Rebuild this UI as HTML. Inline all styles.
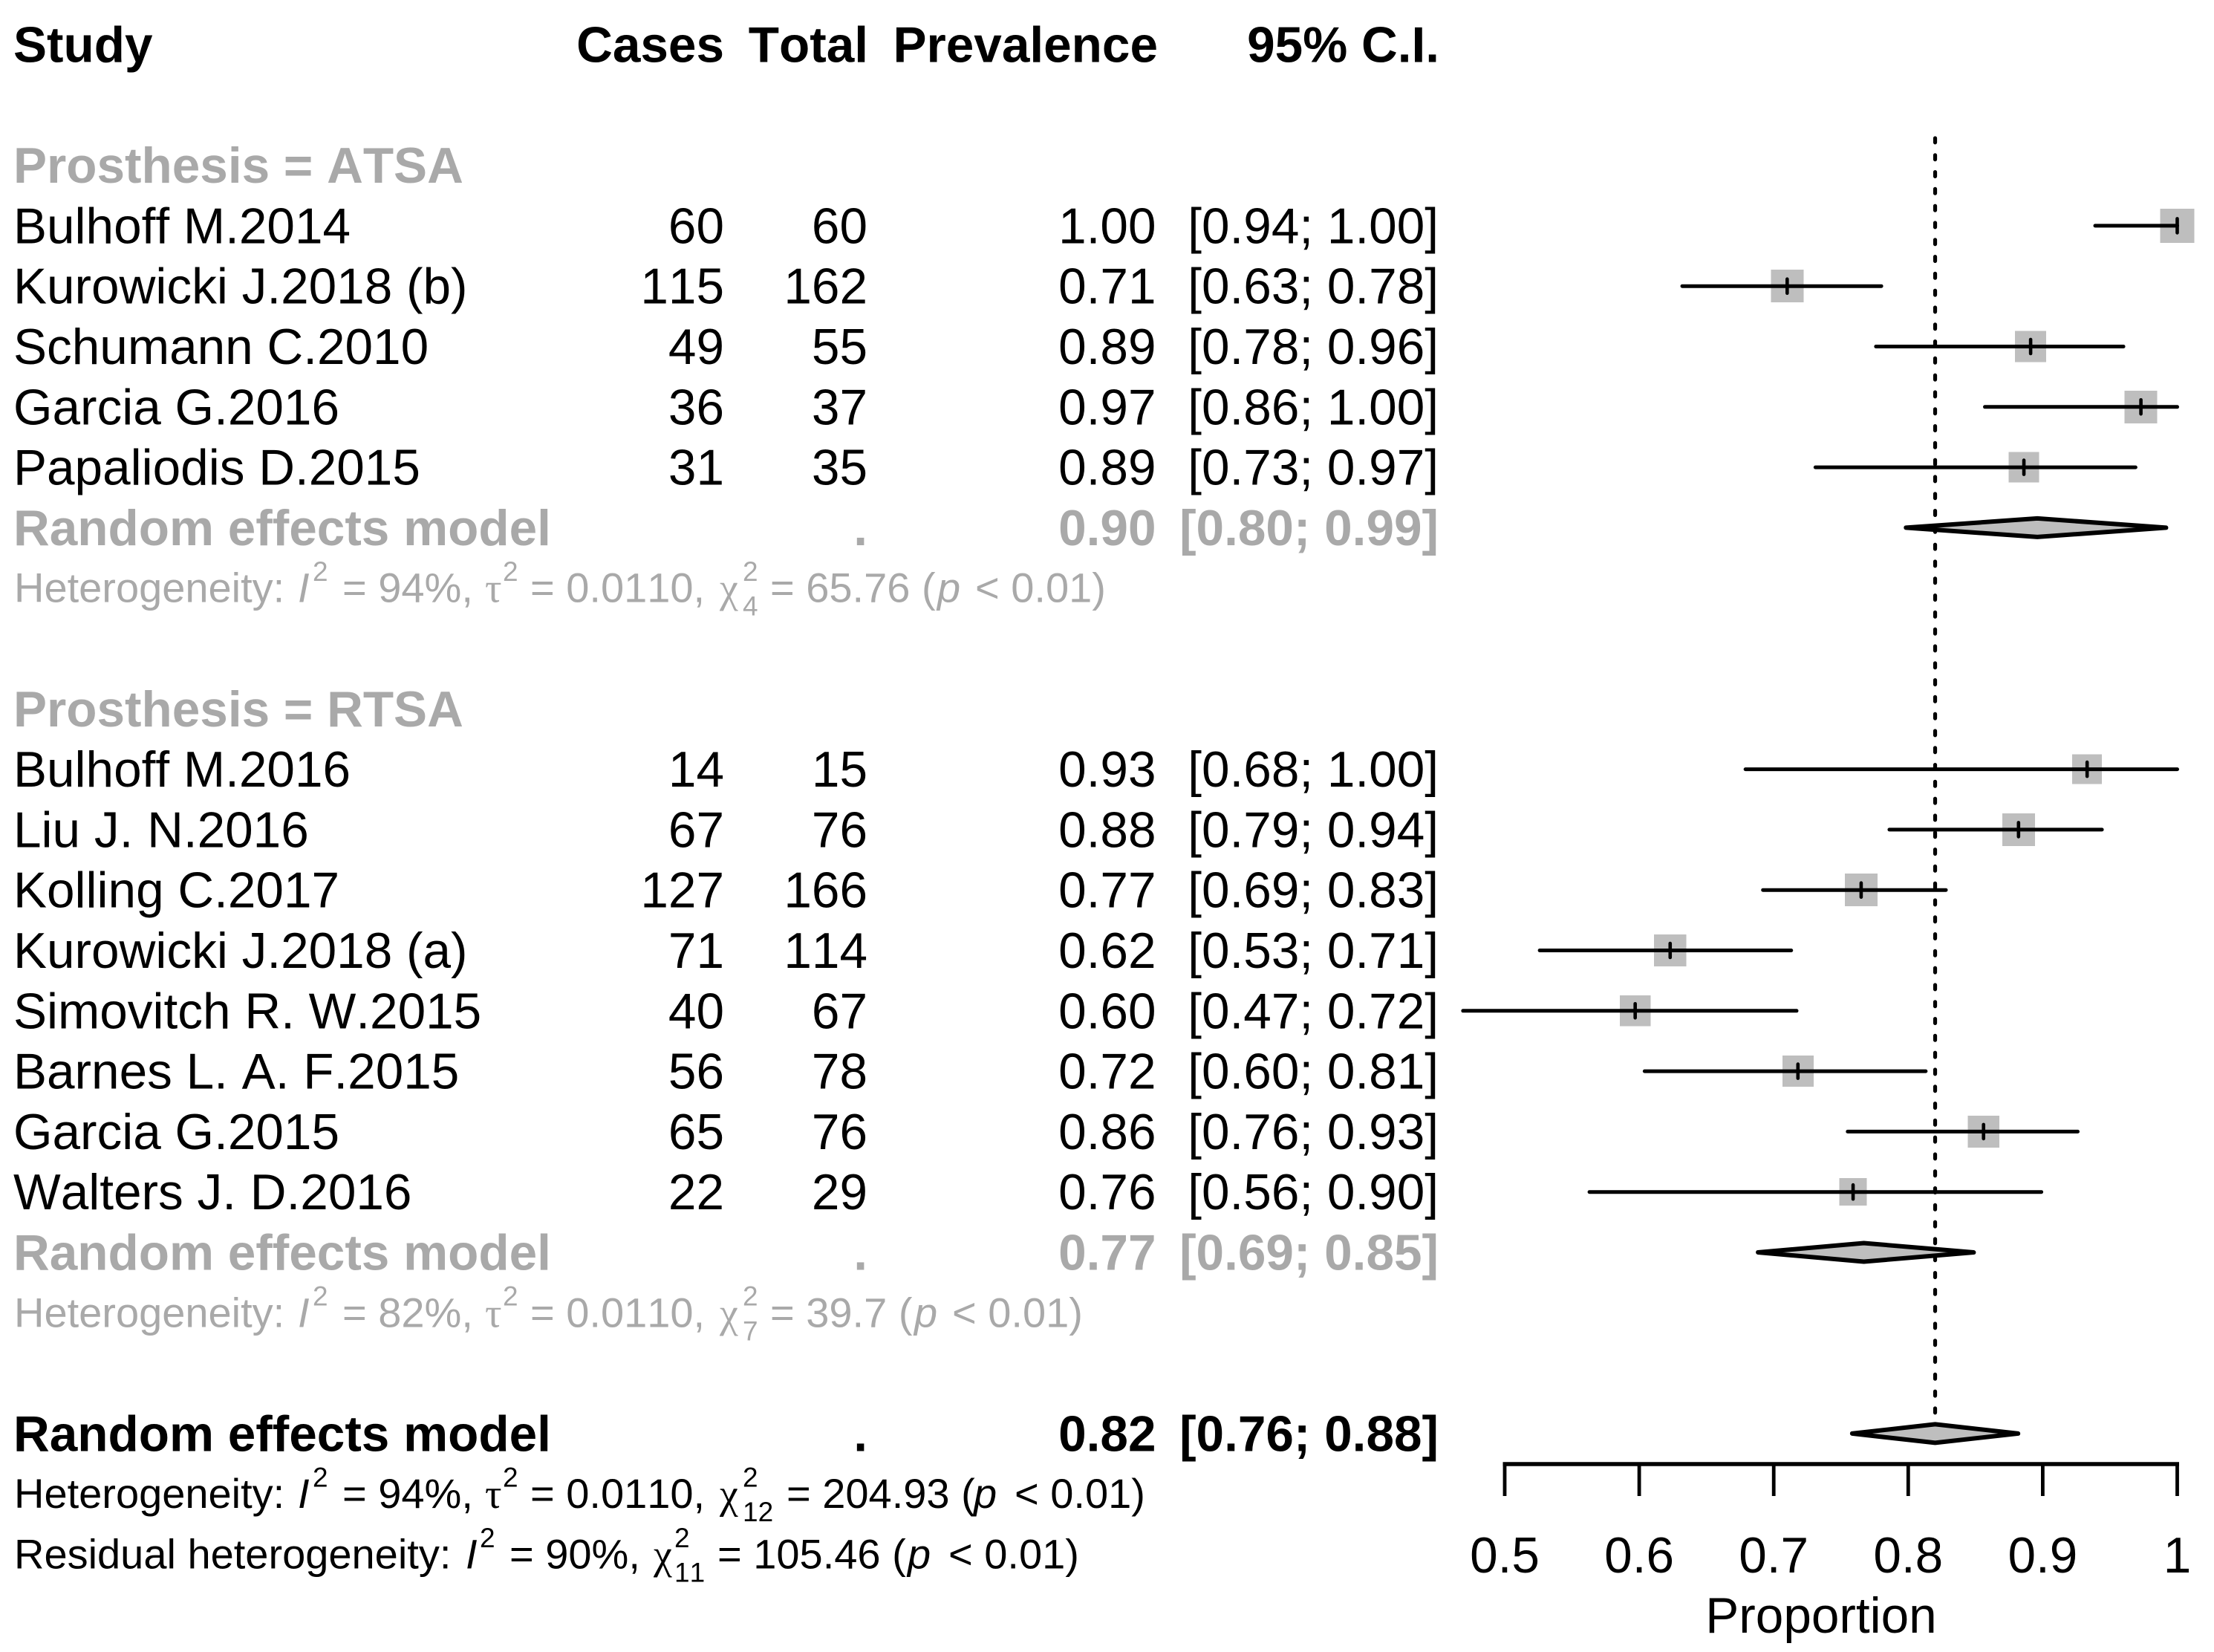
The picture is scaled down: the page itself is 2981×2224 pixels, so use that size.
<!DOCTYPE html>
<html lang="en">
<head>
<meta charset="utf-8">
<title>Forest plot of prevalence by prosthesis type</title>
<style>
html,body{margin:0;padding:0;background:#fff;}
svg{display:block;}
text{font-family:"Liberation Sans",Arial,sans-serif;fill:#000;font-kerning:none;}
.base{font-size:67.5px;}
.bold{font-size:67.5px;font-weight:bold;}
.gray{fill:#a9a9a9;}
.het{font-size:56px;}
.het tspan.i{font-style:italic;}
.het tspan.g{font-family:"Liberation Serif",serif;}
.het tspan.s{font-size:37px;}
</style>
</head>
<body>
<svg id="chart" xmlns="http://www.w3.org/2000/svg" width="2981" height="2224" viewBox="0 0 2981 2224">
  <rect x="0" y="0" width="2981" height="2224" fill="#fff"/>
  <g>
    <text class="bold" x="18" y="83.5">Study</text>
    <text class="bold" x="975" y="83.5" text-anchor="end">Cases</text>
    <text class="bold" x="1169" y="83.5" text-anchor="end">Total</text>
    <text class="bold" x="1559" y="83.5" text-anchor="end">Prevalence</text>
    <text class="bold" x="1938" y="83.5" text-anchor="end">95% C.I.</text>
  </g>
  <g>
    <text class="het gray" y="810.7"><tspan x="19">Heterogeneity: </tspan><tspan class="i" x="401">I</tspan><tspan class="s" x="421" dy="-28.6">2</tspan><tspan x="461" dy="28.6">= 94%, </tspan><tspan class="g" x="653">τ</tspan><tspan class="s" x="677" dy="-28.6">2</tspan><tspan x="714" dy="28.6">= 0.0110, </tspan><tspan class="g" x="969">χ</tspan><tspan class="s" x="1000" dy="-28.6">2</tspan><tspan class="s" x="1000" dy="46.6">4</tspan><tspan x="1037" dy="-18">= 65.76 (</tspan><tspan class="i" x="1262">p</tspan><tspan x="1313">&lt; 0.01)</tspan></text>
    <text class="het gray" y="1786.3"><tspan x="19">Heterogeneity: </tspan><tspan class="i" x="401">I</tspan><tspan class="s" x="421" dy="-28.6">2</tspan><tspan x="461" dy="28.6">= 82%, </tspan><tspan class="g" x="653">τ</tspan><tspan class="s" x="677" dy="-28.6">2</tspan><tspan x="714" dy="28.6">= 0.0110, </tspan><tspan class="g" x="969">χ</tspan><tspan class="s" x="1000" dy="-28.6">2</tspan><tspan class="s" x="1000" dy="46.6">7</tspan><tspan x="1037" dy="-18">= 39.7 (</tspan><tspan class="i" x="1231">p</tspan><tspan x="1282">&lt; 0.01)</tspan></text>
    <text class="het" y="2030.2"><tspan x="19">Heterogeneity: </tspan><tspan class="i" x="401">I</tspan><tspan class="s" x="421" dy="-28.6">2</tspan><tspan x="461" dy="28.6">= 94%, </tspan><tspan class="g" x="653">τ</tspan><tspan class="s" x="677" dy="-28.6">2</tspan><tspan x="714" dy="28.6">= 0.0110, </tspan><tspan class="g" x="969">χ</tspan><tspan class="s" x="1000" dy="-28.6">2</tspan><tspan class="s" x="1000" dy="46.6">12</tspan><tspan x="1059" dy="-18">= 204.93 (</tspan><tspan class="i" x="1311">p</tspan><tspan x="1366">&lt; 0.01)</tspan></text>
    <text class="het" y="2111.5"><tspan x="19">Residual heterogeneity: </tspan><tspan class="i" x="627">I</tspan><tspan class="s" x="646" dy="-28.6">2</tspan><tspan x="686" dy="28.6">= 90%, </tspan><tspan class="g" x="880">χ</tspan><tspan class="s" x="908" dy="-28.6">2</tspan><tspan class="s" x="908" dy="46.6">11</tspan><tspan x="966" dy="-18">= 105.46 (</tspan><tspan class="i" x="1222">p</tspan><tspan x="1277">&lt; 0.01)</tspan></text>
  </g>
  <g id="table"></g>
  <g id="plot"></g>
  <g id="axis"></g>
  <text class="base" x="2452" y="2198" text-anchor="middle">Proportion</text>
</svg>
<script>
// Study data
const studies = ["Bulhoff M.2014","Kurowicki J.2018 (b)","Schumann C.2010","Garcia G.2016","Papaliodis D.2015",
  "Bulhoff M.2016","Liu J. N.2016","Kolling C.2017","Kurowicki J.2018 (a)","Simovitch R. W.2015","Barnes L. A. F.2015","Garcia G.2015","Walters J. D.2016"];
const cases = [60,115,49,36,31,14,67,127,71,40,56,65,22];
const totals = [60,162,55,37,35,15,76,166,114,67,78,76,29];
const prevalence = [1.00,0.710,0.891,0.973,0.886,0.933,0.882,0.765,0.623,0.597,0.718,0.856,0.759];
const ciLower = [0.939,0.632,0.776,0.857,0.731,0.679,0.786,0.692,0.526,0.469,0.604,0.755,0.563];
const ciUpper = [1.00,0.780,0.960,1.00,0.969,1.00,0.944,0.828,0.713,0.717,0.813,0.926,0.899];
const weights = [46,44,42,44,41,40,44,44,43.4,41.4,42,42.7,37];
const studyRows = [3,4,5,6,7,12,13,14,15,16,17,18,19];

const groupLabels = ["Prosthesis = ATSA","Prosthesis = RTSA"];
const groupRows = [2,11];

const summaryLabels = ["Random effects model","Random effects model","Random effects model"];
const summaryMean = [0.896,0.767,0.82];
const summaryLower = [0.80,0.69,0.76];
const summaryUpper = [0.99,0.847,0.88];
const summaryRows = [8,20,23];
const summaryGray = [true,true,false];

const overallEffect = 0.82;
const axisTicks = [0.5,0.6,0.7,0.8,0.9,1];
const axisTickLabels = ["0.5","0.6","0.7","0.8","0.9","1"];

const NS = "http://www.w3.org/2000/svg";
const tableG = document.getElementById("table");
const plotG = document.getElementById("plot");
const axisG = document.getElementById("axis");

function xScale(v){ return 2026 + (v - 0.5) * 1811; }
function rowY(n){ return 60 + 81.3 * n; }
function make(tag, attrs, parent){
  const el = document.createElementNS(NS, tag);
  for (const k in attrs) el.setAttribute(k, attrs[k]);
  parent.appendChild(el);
  return el;
}
function label(str, x, y, cls, anchor){
  const el = make("text", {x: x, y: y, class: cls, "text-anchor": anchor}, tableG);
  el.textContent = str;
  return el;
}
function ciText(lo, hi){ return "[" + lo.toFixed(2) + "; " + hi.toFixed(2) + "]"; }

// Reference line sits underneath everything else
const refLine = make("line", {x1: xScale(overallEffect), x2: xScale(overallEffect), y1: 186, y2: 1910, stroke: "#000", "stroke-width": 5.2, "stroke-linecap": "round", "stroke-dasharray": "5.8 17"}, plotG);



groupLabels.forEach(function(name, g){
  const t = label(name, 18, rowY(groupRows[g]) + 23.5, "bold gray", "start");
  
  
});

studies.forEach(function(name, i){
  const baseline = rowY(studyRows[i]) + 23.5;
  const cy = rowY(studyRows[i]);

  const nameText = label(name, 18, baseline, "base", "start");
  
  

  const caseText = label(String(cases[i]), 975, baseline, "base", "end");
  
  

  const totalText = label(String(totals[i]), 1168, baseline, "base", "end");
  
  

  const prevText = label(prevalence[i].toFixed(2), 1556.5, baseline, "base", "end");
  
  

  const ciValue = label(ciText(ciLower[i], ciUpper[i]), 1937, baseline, "base", "end");
  
  

  const w = weights[i];
  const square = make("rect", {x: xScale(prevalence[i]) - w / 2, y: cy - w / 2, width: w, height: w, fill: "#bebebe", "shape-rendering": "crispEdges"}, plotG);
  
  

  const ci = make("line", {x1: xScale(ciLower[i]), x2: xScale(ciUpper[i]), y1: cy, y2: cy, stroke: "#000", "stroke-width": 5, "stroke-linecap": "round"}, plotG);
  
  

  const tick = make("line", {x1: xScale(prevalence[i]), x2: xScale(prevalence[i]), y1: cy - 9.5, y2: cy + 9.5, stroke: "#000", "stroke-width": 4.6, "stroke-linecap": "round"}, plotG);
  
  
});

summaryLabels.forEach(function(name, i){
  const baseline = rowY(summaryRows[i]) + 23.5;
  const cy = rowY(summaryRows[i]);
  const cls = summaryGray[i] ? "bold gray" : "bold";

  const nameText = label(name, 18, baseline, cls, "start");
  
  

  const dot = label(".", 1168, baseline, cls, "end");
  
  

  const meanText = label(summaryMean[i].toFixed(2), 1556.5, baseline, cls, "end");
  
  

  const ciValue = label(ciText(summaryLower[i], summaryUpper[i]), 1937, baseline, cls, "end");
  
  

  const pts = [(xScale(summaryLower[i]) - 3) + "," + cy, xScale(summaryMean[i]) + "," + (cy - 12.5), (xScale(summaryUpper[i]) + 3) + "," + cy, xScale(summaryMean[i]) + "," + (cy + 12.5)].join(" ");
  const diamond = make("polygon", {points: pts, fill: "#bebebe", stroke: "#000", "stroke-width": 6, "stroke-linejoin": "round"}, plotG);
  
  
});

const axisLine = make("line", {x1: xScale(axisTicks[0]) - 2.5, x2: xScale(axisTicks[axisTicks.length - 1]) + 2.5, y1: 1971, y2: 1971, stroke: "#000", "stroke-width": 5.6}, axisG);



axisTicks.forEach(function(v, i){
  const tick = make("line", {x1: xScale(v), x2: xScale(v), y1: 1971, y2: 2014, stroke: "#000", "stroke-width": 4.8}, axisG);
  
  

  const t = make("text", {x: xScale(v), y: 2117, class: "base", "text-anchor": "middle"}, axisG);
  t.textContent = axisTickLabels[i];
  
  
});
</script>
</body>
</html>
